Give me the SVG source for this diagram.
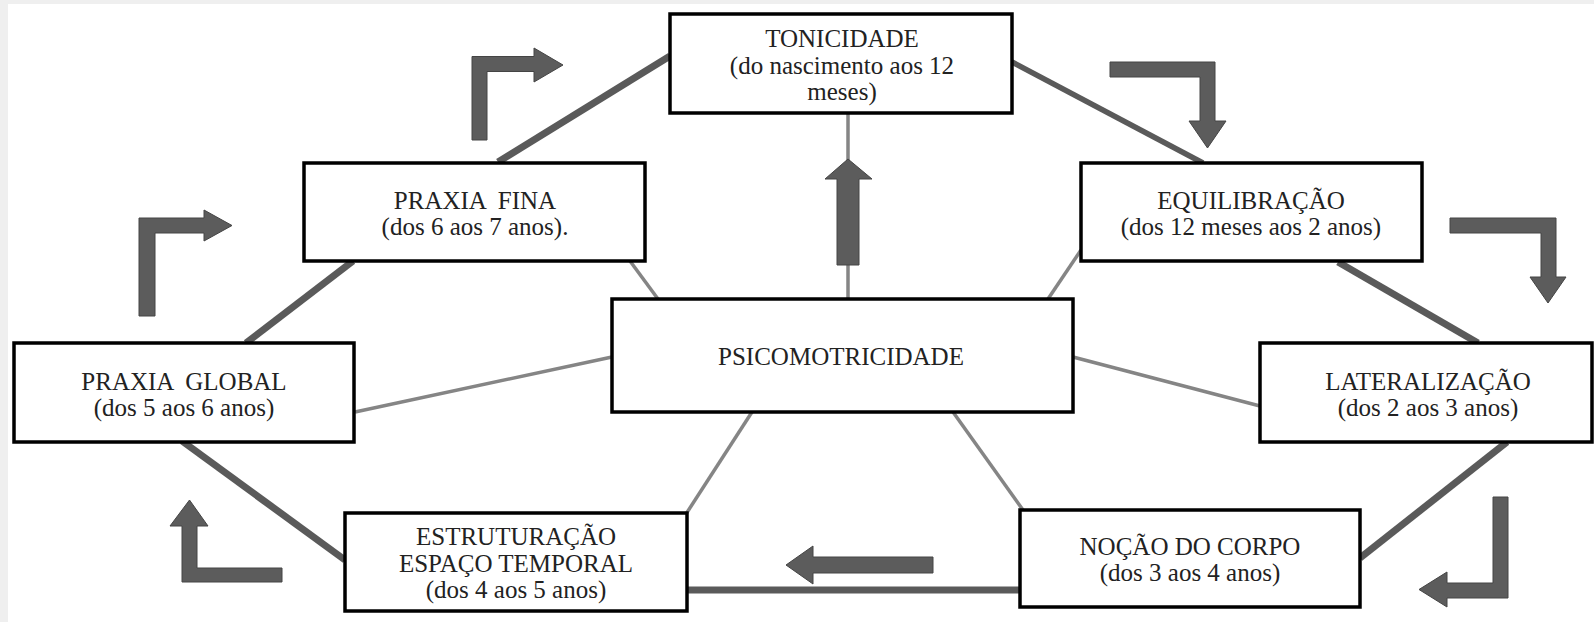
<svg xmlns="http://www.w3.org/2000/svg" width="1594" height="622" viewBox="0 0 1594 622">
<style>
.box{fill:#fff;stroke:#000;stroke-width:3.5}
.t{font-family:'Liberation Serif','DejaVu Serif','Noto Serif',Tinos,'Times New Roman',serif;font-size:25px;fill:#222;text-anchor:middle}
.thick{stroke:#5a5a5a;stroke-width:7;fill:none}
.thin{stroke:#858585;stroke-width:3.5;fill:none}
.arr{fill:#5c5c5c;stroke:#444;stroke-width:1}
</style>
<rect x="0" y="0" width="1594" height="622" fill="#efefef"/>
<rect x="8" y="4" width="1586" height="618" fill="#fff"/>
<g id="connectors">
<line class="thick" x1="498" y1="162" x2="670" y2="56"/>
<line class="thick" x1="1012" y1="62" x2="1203" y2="163" style="stroke-width:5.5"/>
<line class="thick" x1="1338" y1="262" x2="1478" y2="343"/>
<line class="thick" x1="1507" y1="442" x2="1360" y2="558"/>
<line class="thick" x1="687" y1="590" x2="1020" y2="590"/>
<line class="thick" x1="345" y1="560" x2="182" y2="441"/>
<line class="thick" x1="246" y1="343" x2="353" y2="261"/>
<line class="thin" x1="848" y1="113" x2="848" y2="299"/>
<line class="thin" x1="630" y1="261" x2="658" y2="299"/>
<line class="thin" x1="1081" y1="250" x2="1048" y2="299"/>
<line class="thin" x1="355" y1="412" x2="612" y2="357"/>
<line class="thin" x1="1073" y1="357" x2="1260" y2="406"/>
<line class="thin" x1="752" y1="412" x2="686" y2="514"/>
<line class="thin" x1="953" y1="412" x2="1023" y2="510"/>
</g>
<g id="arrows">
<polygon class="arr" points="472,140 472,56.5 534,56.5 534,48 563,65 534,82 534,71.5 487,71.5 487,140"/>
<polygon class="arr" points="139,316 139,218 204,218 204,210 232,225.5 204,241 204,233 155,233 155,316"/>
<polygon class="arr" points="1110,62 1215,62 1215,121 1226,121 1207.5,148 1189,121 1200,121 1200,77 1110,77"/>
<polygon class="arr" points="1450,218 1556,218 1556,277 1566,277 1548,303 1530,277 1541,277 1541,233 1450,233"/>
<polygon class="arr" points="1493,497 1508,497 1508,598 1447,598 1447,607 1419,589.5 1447,572 1447,583 1493,583"/>
<polygon class="arr" points="933,557 933,573 813,573 813,584 786,565 813,546 813,557"/>
<polygon class="arr" points="182,582 182,526 170,526 189.5,500 208,526 197,526 197,568 282,568 282,582"/>
<polygon class="arr" points="837,265 837,179 825,179 848,159 872,179 859,179 859,265"/>
</g>
<g id="tonicidade">
<rect class="box" x="670" y="14" width="342" height="99"/>
<text class="t" x="842" y="47">TONICIDADE</text>
<text class="t" x="842" y="74">(do nascimento aos 12</text>
<text class="t" x="842" y="100">meses)</text>
</g>
<g id="praxia-fina">
<rect class="box" x="304" y="163" width="341" height="98"/>
<text class="t" x="475" y="209" word-spacing="6">PRAXIA FINA</text>
<text class="t" x="475" y="235">(dos 6 aos 7 anos).</text>
</g>
<g id="equilibracao">
<rect class="box" x="1081" y="163" width="341" height="98"/>
<text class="t" x="1251" y="209">EQUILIBRAÇÃO</text>
<text class="t" x="1251" y="235">(dos 12 meses aos 2 anos)</text>
</g>
<g id="psicomotricidade">
<rect class="box" x="612" y="299" width="461" height="113"/>
<text class="t" x="841" y="365">PSICOMOTRICIDADE</text>
</g>
<g id="praxia-global">
<rect class="box" x="14" y="343" width="340" height="99"/>
<text class="t" x="184" y="390" word-spacing="6">PRAXIA GLOBAL</text>
<text class="t" x="184" y="416">(dos 5 aos 6 anos)</text>
</g>
<g id="lateralizacao">
<rect class="box" x="1260" y="343" width="332" height="99"/>
<text class="t" x="1428" y="390">LATERALIZAÇÃO</text>
<text class="t" x="1428" y="416">(dos 2 aos 3 anos)</text>
</g>
<g id="estruturacao">
<rect class="box" x="345" y="513" width="342" height="98"/>
<text class="t" x="516" y="545">ESTRUTURAÇÃO</text>
<text class="t" x="516" y="572">ESPAÇO TEMPORAL</text>
<text class="t" x="516" y="598">(dos 4 aos 5 anos)</text>
</g>
<g id="nocao">
<rect class="box" x="1020" y="510" width="340" height="97"/>
<text class="t" x="1190" y="555">NOÇÃO DO CORPO</text>
<text class="t" x="1190" y="581">(dos 3 aos 4 anos)</text>
</g>
</svg>
